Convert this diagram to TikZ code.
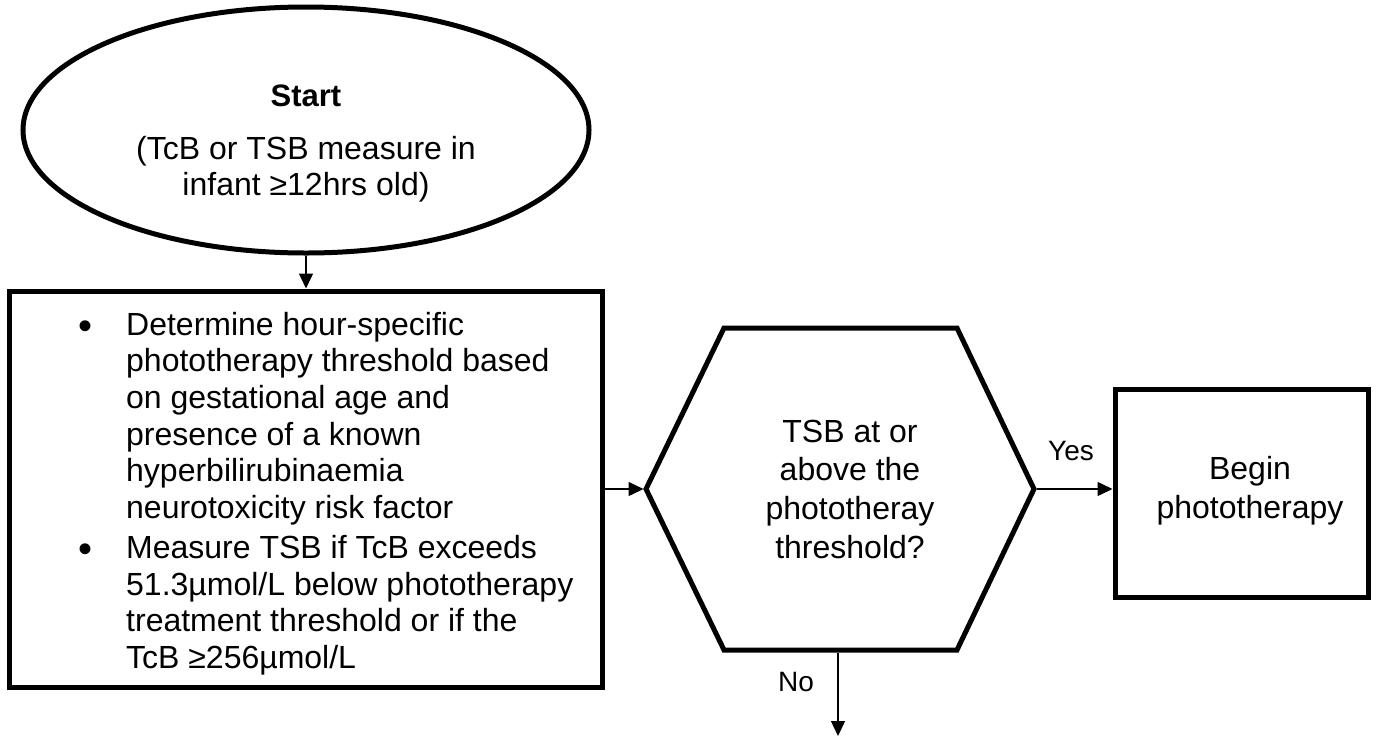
\documentclass[tikz,border=0pt]{standalone}
\usepackage{fontspec}
\setmainfont{Liberation Sans}
\usetikzlibrary{shapes.geometric,arrows.meta}
\newcommand\mybul{\makebox[48pt][l]{\raisebox{-4pt}{\fontsize{40}{36}\selectfont •}}}
\begin{document}
\begin{tikzpicture}[x=1pt,y=-1pt,
  shapeline/.style={draw=black, line width=5pt, line join=miter},
  arr/.style={draw=black, line width=1.4pt, -{Triangle[length=15pt,width=14pt]}},
  body/.style={font=\fontsize{32}{36.7}\selectfont, inner sep=0pt},
  lbl/.style={font=\fontsize{28}{32}\selectfont, inner sep=0pt},
]
\useasboundingbox (0,0) rectangle (1378,737);

% Start ellipse
\node[ellipse, shapeline, minimum width=566pt, minimum height=246pt, inner sep=0pt] (start) at (306,130) {};
\node[anchor=base, body] (starttext) at (306,106) {\begin{tabular}[t]{@{}c@{}}
{\fontsize{31}{36}\selectfont\bfseries Start}\\[16.5pt]
(TcB or TSB measure in\\
infant ≥12hrs old)
\end{tabular}};

% Determine box
\node[rectangle, shapeline, minimum width=593pt, minimum height=396pt, inner sep=0pt] (det) at (305.5,489) {};
\node[anchor=base west, body] (dettext) at (78,335) {\begin{tabular}[t]{@{}l@{}l@{}}
\mybul & Determine hour-specific\\
 & phototherapy threshold based\\
 & on gestational age and\\
 & presence of a known\\
 & hyperbilirubinaemia\\
 & neurotoxicity risk factor\\[3.3pt]
\mybul & Measure TSB if TcB exceeds\\
 & 51.3µmol/L below phototherapy\\
 & treatment threshold or if the\\
 & TcB ≥256µmol/L
\end{tabular}};

% Decision hexagon
\coordinate (hL)  at (646,489);
\coordinate (hTL) at (724,328);
\coordinate (hTR) at (957,328);
\coordinate (hR)  at (1034,489);
\coordinate (hBR) at (957,650);
\coordinate (hBL) at (724,650);
\draw[shapeline] (hL) -- (hTL) -- (hTR) -- (hR) -- (hBR) -- (hBL) -- cycle;
\coordinate (decW) at (643.5,489);
\coordinate (decE) at (1036.5,489);
\coordinate (decS) at (838,652.5);
\node[anchor=base, inner sep=0pt, font=\fontsize{32}{38.8}\selectfont] (dec) at (850,442) {\begin{tabular}[t]{@{}c@{}}
TSB at or\\
above the\\
phototheray\\
threshold?
\end{tabular}};

% Begin phototherapy box
\node[rectangle, shapeline, minimum width=253pt, minimum height=208pt, inner sep=0pt] (begin) at (1241.5,493) {};
\node[anchor=base, inner sep=0pt, font=\fontsize{32}{39}\selectfont] (begintext) at (1250,479) {\begin{tabular}[t]{@{}c@{}}
Begin\\
phototherapy
\end{tabular}};

% No end
\coordinate (noend) at (838,736);

% Connectors
\draw[arr] (start.south) -- (start.south |- det.north);
\draw[arr] (det.east |- decW) -- (decW);
\draw[arr] (decE) -- (decE -| begin.west);
\draw[arr] (decS) -- (noend);

% Labels
\node[anchor=base west, lbl] (yes) at (1048,460) {Yes};
\node[anchor=base west, lbl] (no) at (778,691) {No};
\end{tikzpicture}
\end{document}
